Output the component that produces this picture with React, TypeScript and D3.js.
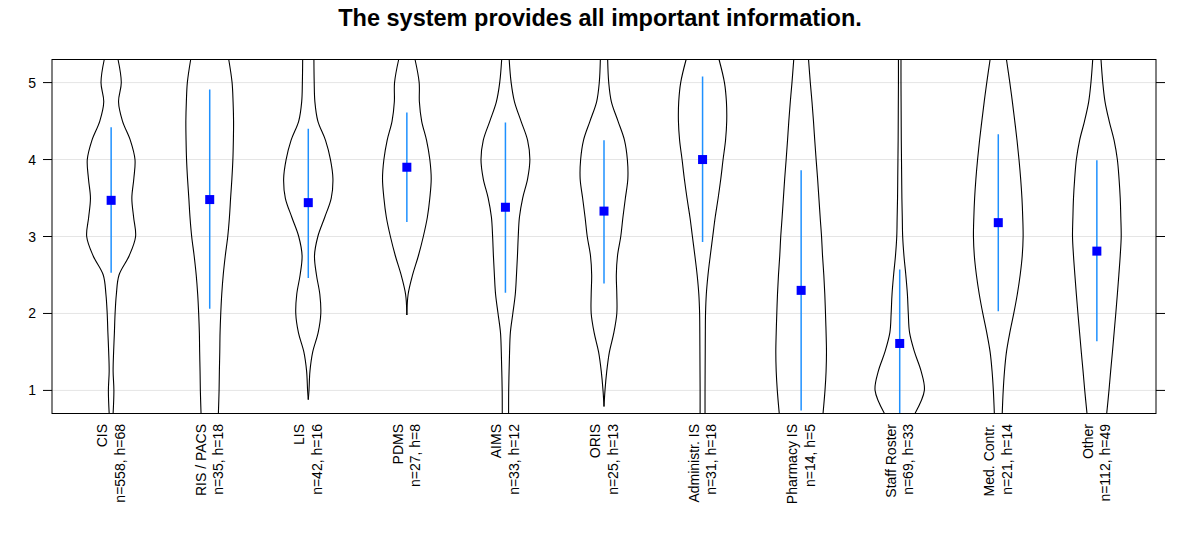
import React from "react";
import * as d3 from "d3";

const title = "The system provides all important information.";
const categories = ["CIS", "RIS / PACS", "LIS", "PDMS", "AIMS", "ORIS", "Administr. IS", "Pharmacy IS", "Staff Roster", "Med. Contr.", "Other"];
const sampleLabels = ["n=558, h=68", "n=35, h=18", "n=42, h=16", "n=27, h=8", "n=33, h=12", "n=25, h=13", "n=31, h=18", "n=14, h=5", "n=69, h=33", "n=21, h=14", "n=112, h=49"];
const meanValues = [3.47, 3.48, 3.44, 3.90, 3.38, 3.33, 4.00, 2.30, 1.61, 3.18, 2.81];
const upperValues = [4.42, 4.91, 4.40, 4.61, 4.48, 4.25, 5.08, 3.86, 2.57, 4.33, 3.99];
const lowerValues = [2.53, 2.06, 2.46, 3.19, 2.27, 2.39, 2.93, 0.74, 0.60, 2.03, 1.64];
const yTicks = [1, 2, 3, 4, 5];

// density profile (relative units) read at these response levels
const densityLevels = [5.3, 5.0, 4.75, 4.5, 4.25, 4.0, 3.75, 3.5, 3.25, 3.0, 2.75, 2.5, 2.25, 2.0, 1.75, 1.5, 1.25, 1.0, 0.7];
const densityCIS = [7, 10.3, 7.5, 11.5, 19.5, 24.2, 23, 21, 22.8, 24.8, 18.3, 8, 5.3, 4, 3.3, 2.5, 2, 2.8, 2];
const densityRIS = [19.3, 22.7, 23.7, 24.2, 24, 23.5, 22.5, 21.2, 20, 18.3, 15.8, 13.7, 12.2, 11.2, 10.5, 10.2, 9.8, 9.5, 8.8];
const densityLIS = [5.7, 6, 6.7, 9.7, 17.5, 22.5, 25, 23.3, 16.7, 9.7, 6.3, 8.3, 11.7, 12.7, 10, 4.5, 1.7, 0.7, 0];
const densityPDMS = [8.3, 12.5, 12.7, 15, 20, 23.3, 24.7, 23.3, 20.8, 16.7, 11.7, 5.8, 1.3, 0, 0, 0, 0, 0, 0];
const densityAIMS = [3.8, 5.8, 9.2, 15.8, 22.5, 24.8, 22.5, 17.5, 14.2, 13, 12.2, 11.2, 10, 7.5, 5, 4.2, 3.7, 3.3, 3.2];
const densityORIS = [3.7, 4.8, 7.5, 14.2, 20.8, 23.7, 24.2, 21.7, 19.2, 17, 13.7, 12.5, 13, 13, 10, 5.5, 2.8, 1, 0];
const densityAdmin = [16.7, 22.2, 24.2, 24.5, 23.3, 20.8, 18.5, 15.8, 12.8, 10.3, 7.8, 5.5, 3.8, 3, 2.8, 2.7, 2.6, 2.5, 2.5];
const densityPharm = [7.5, 9.3, 11, 12.5, 13.8, 15.2, 16.7, 18, 19.3, 20.7, 21.7, 23, 24, 24.7, 25.3, 25.7, 25.3, 24.2, 22.2];
const densityStaff = [1.3, 1.3, 1.4, 1.5, 1.6, 1.8, 2, 2.2, 2.6, 3, 4.3, 6.2, 7.8, 8.7, 10, 15, 21.7, 25, 15.5];
const densityMed = [8.3, 11.7, 14.3, 16.7, 19, 21, 22.7, 24, 24.8, 25.2, 24.3, 22.2, 19.3, 15.7, 11.7, 8.3, 6.3, 5, 4];
const densityOther = [4.2, 6, 8.3, 12.5, 17.5, 20.8, 22.5, 23.7, 24.3, 24.7, 23.7, 22.3, 20.8, 19.2, 17.5, 15.8, 14, 12.3, 10];
const densities = [densityCIS, densityRIS, densityLIS, densityPDMS, densityAIMS, densityORIS, densityAdmin, densityPharm, densityStaff, densityMed, densityOther];
// lowest observed end of the violin tail (null = reaches below the axis)
const tailEnds = [null, null, 0.88, 1.98, null, 0.79, null, null, null, null, null];

const FONT = "'Liberation Sans', Arial, Helvetica, sans-serif";

export default function App() {
  const W = 1200, H = 545;
  const left = 52, right = 1156, top = 59.5, bottom = 413.5;
  const x = d3.scalePoint<string>().domain(categories).range([left, right]).padding(0.6);
  const y = d3.scaleLinear().domain([0.7, 5.3]).range([bottom, top]);
  const w = d3.scaleLinear().domain([0, 25]).range([0, x.step() * 0.25]);

  const violinPaths = categories.map((c, i) => {
    const cx = x(c) as number;
    const tail = tailEnds[i];
    const pts = densityLevels
      .map((v, j) => ({ v, d: densities[i][j] }))
      .filter((p) => tail == null || p.v > tail);
    if (tail != null) pts.push({ v: tail, d: 0 });
    const curve = d3.curveCatmullRom.alpha(0.5);
    const lineL = d3.line<{ v: number; d: number }>().x((p) => cx - w(p.d)).y((p) => y(p.v)).curve(curve);
    const lineR = d3.line<{ v: number; d: number }>().x((p) => cx + w(p.d)).y((p) => y(p.v)).curve(curve);
    return { l: lineL(pts) || "", r: lineR(pts) || "" };
  });

  return (
    <svg width={W} height={H} style={{ position: "absolute", left: 0, top: 0, background: "#fff" }} fontFamily={FONT}>
      <defs>
        <clipPath id="plotclip">
          <rect x={left} y={top} width={right - left} height={bottom - top} />
        </clipPath>
      </defs>
      <rect x={0} y={0} width={W} height={H} fill="#fff" />
      <text x={600} y={26} textAnchor="middle" fontSize={23.5} fontWeight="bold" fill="#000">
        {title}
      </text>
      {/* gridlines */}
      {yTicks.map((t) => (
        <line key={"g" + t} x1={left} x2={right} y1={y(t)} y2={y(t)} stroke="#e5e5e5" strokeWidth={1} />
      ))}
      <g clipPath="url(#plotclip)">
        {violinPaths.map((p, i) => (
          <g key={"v" + i} fill="none" stroke="#000" strokeWidth={1.1}>
            <path d={p.l} />
            <path d={p.r} />
          </g>
        ))}
        {categories.map((c, i) => (
          <line key={"e" + i} x1={x(c)} x2={x(c)} y1={y(lowerValues[i])} y2={y(upperValues[i])} stroke="#1E90FF" strokeWidth={1.5} />
        ))}
        {categories.map((c, i) => (
          <rect key={"m" + i} x={(x(c) as number) - 4.5} y={y(meanValues[i]) - 4.5} width={9} height={9} fill="#0000FF" />
        ))}
      </g>
      {/* frame */}
      <rect x={left} y={top} width={right - left} height={bottom - top} fill="none" stroke="#000" strokeWidth={1} />
      {/* y ticks */}
      {yTicks.map((t) => (
        <g key={"t" + t}>
          <line x1={left - 9} x2={left} y1={y(t)} y2={y(t)} stroke="#000" />
          <line x1={right} x2={right + 9} y1={y(t)} y2={y(t)} stroke="#000" />
          <text x={36} y={y(t) + 5} textAnchor="end" fontSize={14} fill="#000">
            {t}
          </text>
        </g>
      ))}
      {/* x labels */}
      {categories.map((c, i) => (
        <g key={"x" + i} transform={`translate(${x(c)},424) rotate(-90)`}>
          <text x={0} y={-4} textAnchor="end" fontSize={14} fill="#000">
            {c}
          </text>
          <text x={0} y={13.5} textAnchor="end" fontSize={14} fill="#000">
            {sampleLabels[i]}
          </text>
        </g>
      ))}
    </svg>
  );
}
